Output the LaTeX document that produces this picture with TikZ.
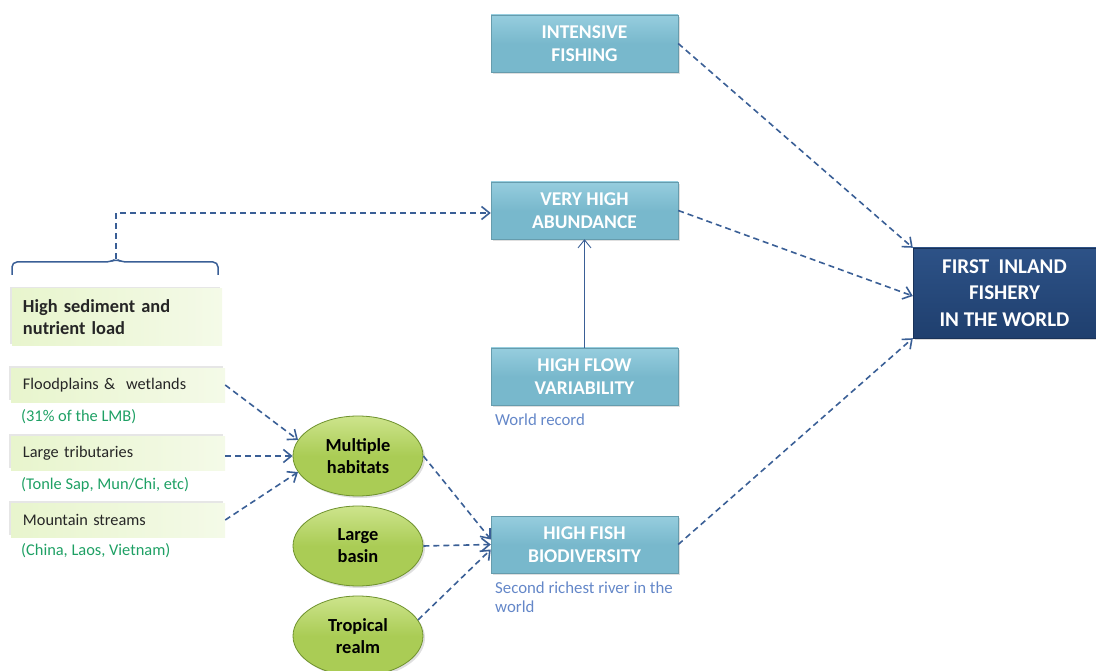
\documentclass[tikz,border=0pt]{standalone}
\usepackage{fontspec}
\setmainfont{Carlito}
\usetikzlibrary{arrows.meta,shadows,shapes.geometric,calc}
\definecolor{tealbox}{RGB}{120,184,204}
\definecolor{tealtop}{RGB}{150,205,222}
\definecolor{navy}{RGB}{31,63,110}
\definecolor{navytop}{RGB}{45,82,135}
\definecolor{arrowblue}{RGB}{58,95,150}
\definecolor{lgreen}{RGB}{232,245,205}
\definecolor{lgreenr}{RGB}{244,250,232}
\definecolor{ellfill}{RGB}{170,204,85}
\definecolor{elltop}{RGB}{205,228,140}
\definecolor{ellborder}{RGB}{110,145,45}
\definecolor{gtext}{RGB}{30,160,100}
\definecolor{btext}{RGB}{100,135,200}
\tikzset{
  tealnode/.style={rectangle, minimum width=187, minimum height=57, top color=tealtop, bottom color=tealbox, middle color=tealbox,
    draw=tealbox!85!black, line width=0.4pt, text=white, font=\fontsize{19.5}{23}\selectfont\bfseries, align=center,
    drop shadow={shadow xshift=2pt, shadow yshift=-2pt, opacity=0.25}},
  navynode/.style={rectangle, minimum width=183, minimum height=90, top color=navytop, bottom color=navy,
    draw=navy!80!black, text=white, font=\fontsize{21}{26.5}\selectfont\bfseries, align=center,
    drop shadow={shadow xshift=2pt, shadow yshift=-2pt, opacity=0.3}},
  greenbox/.style={rectangle, minimum width=208, minimum height=34, left color=lgreen, right color=lgreenr,
    text=black!85, font=\fontsize{16.3}{19}\selectfont, align=left, text width=190, inner xsep=9,
    drop shadow={shadow xshift=-2pt, shadow yshift=2pt, opacity=0.2}},
  ellnode/.style={ellipse, minimum width=130, minimum height=80, top color=elltop, bottom color=ellfill, middle color=ellfill,
    draw=ellborder, line width=0.8pt, font=\fontsize{18.4}{22}\selectfont\bfseries, align=center,
    drop shadow={shadow xshift=2pt, shadow yshift=-2pt, opacity=0.25}},
  gnote/.style={anchor=west, text=gtext, font=\fontsize{16.4}{19}\selectfont, inner sep=0},
  bnote/.style={anchor=north west, text=btext, font=\fontsize{16.8}{19}\selectfont, align=left, inner sep=0},
  darr/.style={draw=arrowblue, line width=1.6pt, dash pattern=on 6pt off 4pt, -{Straight Barb[length=8pt,width=13pt]}},
}
\begin{document}
\begin{tikzpicture}[x=1pt,y=-1pt]
\useasboundingbox (0,0) rectangle (1096,671);
% teal boxes
\node[tealnode] (fish) at (584.5,43.5) {INTENSIVE\\FISHING};
\node[tealnode] (abund) at (584.5,210.5) {VERY HIGH\\ABUNDANCE};
\node[tealnode] (flow) at (584.5,376.5) {HIGH FLOW\\VARIABILITY};
\node[tealnode] (bio) at (584.5,544.5) {HIGH FISH\\BIODIVERSITY};
\node[navynode] (first) at (1004.5,293) {FIRST\ \ INLAND\\FISHERY\\IN THE WORLD};
\node[bnote] (wr) at (495,414) {World record};
\node[bnote] (sr) at (495,582) {Second richest river in the\\world};
% left green boxes
\node[greenbox, minimum width=210, minimum height=57, text width=188, inner xsep=11, font=\fontsize{18.4}{22}\selectfont\bfseries] (sed) at (117,317.5) {High sediment and\\nutrient load};
\node[greenbox, inner xsep=12] (flood) at (118,385) {Floodplains \&\ \ wetlands};
\node[greenbox, inner xsep=12] (trib) at (118,453) {Large tributaries};
\node[greenbox, inner xsep=12] (mount) at (118,520) {Mountain streams};
\node[gnote] (n1) at (21,417) {(31\% of the LMB)};
\node[gnote] (n2) at (21,485) {(Tonle Sap, Mun/Chi, etc)};
\node[gnote] (n3) at (21,551) {(China, Laos, Vietnam)};
% ellipses
\node[ellnode] (multi) at (358,456) {Multiple\\habitats};
\node[ellnode] (basin) at (358,546) {Large\\basin};
\node[ellnode] (trop) at (358,636) {Tropical\\realm};
% brace
\coordinate (bl) at (12,275);
\coordinate (br) at (218,275);
\coordinate (bm) at (116,259);
\draw[arrowblue, line width=1.5pt, rounded corners=5pt] (bl) -- (12,262) -- (110,262) -- (bm) -- (122,262) -- (218,262) -- (br);
\coordinate (bend) at (116,213);
\draw[darr] (bm) -- (bend) -- (abund.west |- bend);
% connectors
\draw[darr] (flood.east) -- (multi.165);
\draw[darr] (trib.east |- multi.west) -- (multi.west);
\draw[darr] (mount.east) -- (multi.195);
\draw[darr] (multi.east) -- ($(bio.west)+(0,-5)$);
\draw[darr] (basin.east) -- (bio.west);
\draw[darr] (trop.15) -- ($(bio.west)+(0,5)$);
\draw[arrowblue, line width=0.9pt, -{Straight Barb[length=8pt,width=13pt]}] (flow.north) -- (abund.south);
\draw[darr] (fish.east) -- (first.north west);
\draw[darr] (abund.east) -- ($(first.west)+(0,3)$);
\draw[darr] (bio.east) -- (first.south west);
\end{tikzpicture}
\end{document}
